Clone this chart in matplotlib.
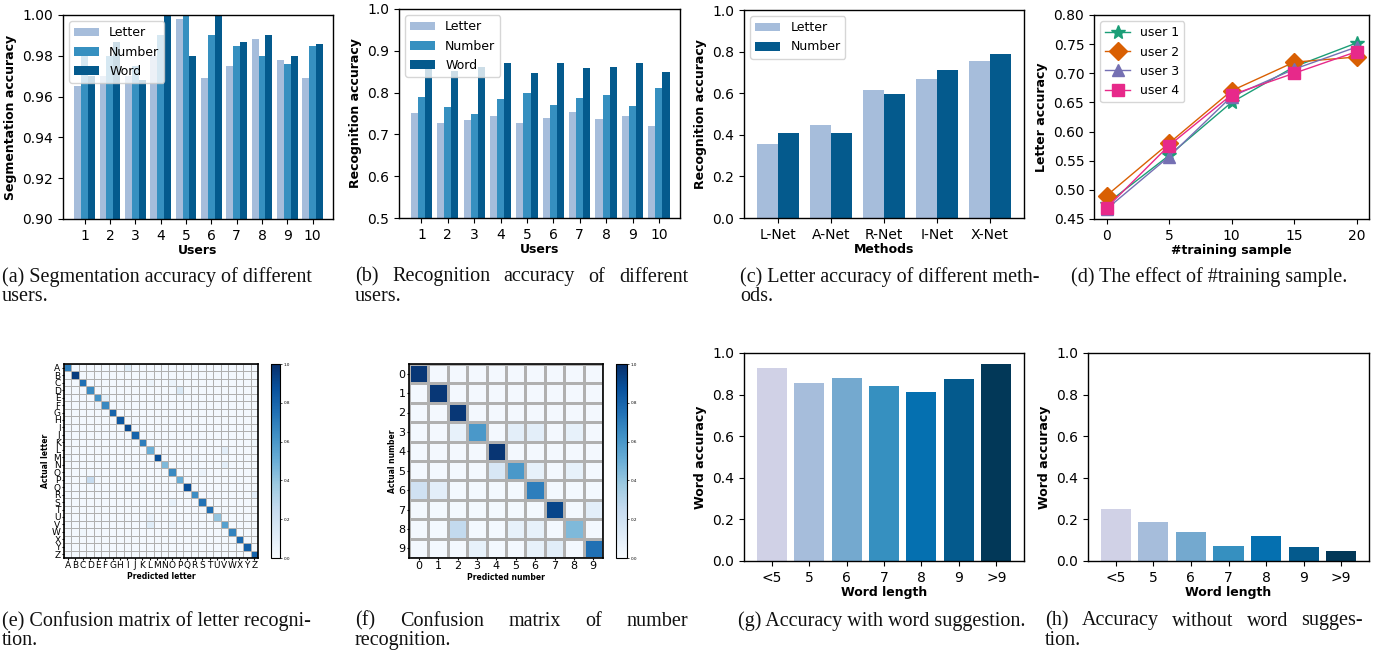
import numpy as np
import matplotlib
matplotlib.use('Agg')
import matplotlib.pyplot as plt

W, H = 1396, 657

# ---- data -------------------------------------------------------------
users = np.arange(1, 11)
seg_letter = [0.965, 0.970, 0.970, 0.980, 0.998, 0.969, 0.975, 0.988, 0.978, 0.969]
seg_number = [0.980, 0.980, 0.975, 0.990, 1.000, 0.990, 0.985, 0.980, 0.976, 0.985]
seg_word = [0.970, 0.987, 0.968, 1.000, 0.980, 1.000, 0.987, 0.990, 0.980, 0.986]

rec_letter = [0.752, 0.728, 0.734, 0.743, 0.727, 0.740, 0.754, 0.738, 0.745, 0.720]
rec_number = [0.790, 0.766, 0.750, 0.785, 0.800, 0.770, 0.786, 0.794, 0.768, 0.810]
rec_word = [0.864, 0.851, 0.861, 0.872, 0.846, 0.870, 0.858, 0.861, 0.870, 0.850]

methods = ['L-Net', 'A-Net', 'R-Net', 'I-Net', 'X-Net']
meth_letter = [0.357, 0.447, 0.616, 0.669, 0.755]
meth_number = [0.409, 0.409, 0.596, 0.711, 0.789]

train_n = [0, 5, 10, 15, 20]
user_names = ['user 1', 'user 2', 'user 3', 'user 4']
user_acc = [
    [0.476, 0.559, 0.650, 0.711, 0.752],
    [0.490, 0.580, 0.670, 0.719, 0.728],
    [0.467, 0.557, 0.660, 0.707, 0.745],
    [0.469, 0.576, 0.663, 0.700, 0.737],
]

letters = list('ABCDEFGHIJKLMNOPQRSTUVWXYZ')
letter_diag = [0.70, 0.95, 0.75, 0.65, 0.62, 0.66, 0.80, 0.85, 0.90, 0.80, 0.70, 0.50, 0.88,
               0.45, 0.66, 0.50, 0.88, 0.64, 0.74, 0.76, 0.40, 0.56, 0.68, 0.78, 0.82, 0.80]
# (actual, predicted, value) for the visible off-diagonal cells
letter_off = [('A', 'I', 0.12), ('C', 'L', 0.06), ('C', 'O', 0.06), ('D', 'P', 0.15),
              ('E', 'F', 0.08), ('F', 'E', 0.06), ('L', 'V', 0.10), ('N', 'V', 0.10),
              ('P', 'D', 0.25), ('R', 'Z', 0.10), ('S', 'O', 0.08), ('U', 'L', 0.07),
              ('V', 'L', 0.12), ('V', 'O', 0.06), ('M', 'A', 0.05), ('O', 'S', 0.06),
              ('M', 'R', 0.05), ('K', 'Z', 0.04), ('Q', 'K', 0.04), ('W', 'C', 0.04)]
letter_base = 0.02

digits = [str(d) for d in range(10)]
number_diag = [0.97, 0.97, 0.97, 0.60, 0.98, 0.60, 0.70, 0.92, 0.45, 0.75]
number_off = [(3, 2, 0.08), (3, 5, 0.10), (3, 6, 0.10), (3, 8, 0.08),
              (5, 4, 0.16), (5, 6, 0.08), (5, 8, 0.08),
              (6, 0, 0.20), (6, 1, 0.10), (7, 9, 0.10),
              (8, 2, 0.26), (8, 5, 0.08), (8, 6, 0.08),
              (9, 3, 0.08), (9, 6, 0.08), (9, 7, 0.11)]
number_base = 0.02

word_len = ['<5', '5', '6', '7', '8', '9', '>9']
with_sugg = [0.930, 0.858, 0.882, 0.843, 0.811, 0.877, 0.946]
without_sugg = [0.250, 0.186, 0.138, 0.070, 0.118, 0.066, 0.048]

pubu = ['#d0d1e6', '#a6bddb', '#74a9cf', '#3690c0', '#0570b0', '#045a8d', '#023858']
dark2 = ['#1b9e77', '#d95f02', '#7570b3', '#e7298a']
markers = ['*', 'D', '^', 's']
msizes = [10, 9, 9, 9]

TICK = 10
LAB = 9


def box(l, t, r, b):
    return [l / W, 1 - b / H, (r - l) / W, (b - t) / H]


def style(ax):
    ax.tick_params(labelsize=TICK)
    for s in ax.spines.values():
        s.set_linewidth(1.0)


fig = plt.figure(figsize=(W / 100, H / 100), dpi=100)

# (a) segmentation accuracy
ax = fig.add_axes(box(63, 15, 333, 219))
w = 0.27
ax.bar(users - w, seg_letter, w, color=pubu[1], label='Letter')
ax.bar(users, seg_number, w, color=pubu[3], label='Number')
ax.bar(users + w, seg_word, w, color=pubu[5], label='Word')
ax.set_ylim(0.90, 1.00)
ax.set_yticks(np.arange(0.90, 1.001, 0.02))
ax.yaxis.set_major_formatter('{x:.2f}')
ax.set_xticks(users)
ax.set_xlim(0.15, 10.8)
ax.set_xlabel('Users', fontweight='bold', fontsize=LAB, labelpad=1)
ax.set_ylabel('Segmentation accuracy', fontweight='bold', fontsize=LAB)
ax.legend(loc='upper left', fontsize=LAB)
style(ax)

# (b) recognition accuracy
ax = fig.add_axes(box(399, 9, 680, 218))
ax.bar(users - w, rec_letter, w, color=pubu[1], label='Letter')
ax.bar(users, rec_number, w, color=pubu[3], label='Number')
ax.bar(users + w, rec_word, w, color=pubu[5], label='Word')
ax.set_ylim(0.5, 1.0)
ax.set_xticks(users)
ax.set_xlim(0.15, 10.8)
ax.set_xlabel('Users', fontweight='bold', fontsize=LAB, labelpad=1)
ax.set_ylabel('Recognition accuracy', fontweight='bold', fontsize=LAB)
ax.legend(loc='upper left', fontsize=LAB)
style(ax)

# (c) methods
ax = fig.add_axes(box(744, 10, 1024, 218))
xm = np.arange(len(methods))
ax.bar(xm - 0.2, meth_letter, 0.4, color=pubu[1], label='Letter')
ax.bar(xm + 0.2, meth_number, 0.4, color=pubu[5], label='Number')
ax.set_ylim(0, 1.0)
ax.set_xticks(xm, methods)
ax.set_xlabel('Methods', fontweight='bold', fontsize=LAB, labelpad=1)
ax.set_ylabel('Recognition accuracy', fontweight='bold', fontsize=LAB)
ax.legend(loc='upper left', fontsize=LAB)
style(ax)

# (d) training samples
ax = fig.add_axes(box(1094, 15, 1369, 219))
for name, acc, c, m, ms in zip(user_names, user_acc, dark2, markers, msizes):
    ax.plot(train_n, acc, color=c, marker=m, ms=ms, lw=1, label=name)
ax.set_ylim(0.45, 0.80)
ax.set_xticks(train_n)
ax.yaxis.set_major_formatter('{x:.2f}')
ax.set_xlabel('#training sample', fontweight='bold', fontsize=LAB, labelpad=1)
ax.set_ylabel('Letter accuracy', fontweight='bold', fontsize=LAB)
ax.legend(loc='upper left', fontsize=LAB)
style(ax)


def conf_panel(rect, crect, labels, diag, off, base, xl, yl, fs, lw):
    n = len(labels)
    mat = np.full((n, n), base)
    mat[np.arange(n), np.arange(n)] = diag
    for r, c, v in off:
        if isinstance(r, str):
            r, c = labels.index(r), labels.index(c)
        mat[r, c] = v
    ax = fig.add_axes(rect)
    mesh = ax.pcolormesh(mat, cmap='Blues', vmin=0, vmax=1,
                         edgecolors='#b0b0b0', linewidth=lw)
    ax.set_xlim(0, n)
    ax.set_ylim(n, 0)
    ax.set_xticks(np.arange(n) + 0.5, labels)
    ax.set_yticks(np.arange(n) + 0.5, labels)
    ax.tick_params(labelsize=fs, length=1.5, pad=1)
    ax.set_xlabel(xl, fontweight='bold', fontsize=5.5, labelpad=1)
    ax.set_ylabel(yl, fontweight='bold', fontsize=5.5, labelpad=1)
    for s in ax.spines.values():
        s.set_linewidth(1.2)
    cax = fig.add_axes(crect)
    cb = fig.colorbar(mesh, cax=cax, ticks=[0, 0.2, 0.4, 0.6, 0.8, 1.0])
    cb.ax.tick_params(labelsize=3, length=1.5, width=0.5, pad=1)
    cb.outline.set_linewidth(0.8)


# (e) letter confusion matrix
conf_panel(box(64, 364, 258, 558), box(271, 364, 280, 558), letters,
           letter_diag, letter_off, letter_base, 'Predicted letter', 'Actual letter', 6.5, 0.65)

# (f) number confusion matrix
conf_panel(box(409, 364, 603, 558), box(616, 364, 627, 558), digits,
           number_diag, number_off, number_base, 'Predicted number', 'Actual number', 8, 0.9)

# (g) with word suggestion
ax = fig.add_axes(box(744, 353, 1024, 561))
xw = np.arange(len(word_len))
ax.bar(xw, with_sugg, 0.8, color=pubu)
ax.set_ylim(0, 1.0)
ax.set_xticks(xw, word_len)
ax.set_xlabel('Word length', fontweight='bold', fontsize=LAB, labelpad=1)
ax.set_ylabel('Word accuracy', fontweight='bold', fontsize=LAB)
style(ax)

# (h) without word suggestion
ax = fig.add_axes(box(1088, 353, 1369, 561))
ax.bar(xw, without_sugg, 0.8, color=pubu)
ax.set_ylim(0, 1.0)
ax.set_xticks(xw, word_len)
ax.set_xlabel('Word length', fontweight='bold', fontsize=LAB, labelpad=1)
ax.set_ylabel('Word accuracy', fontweight='bold', fontsize=LAB)
style(ax)

# ---- captions ---------------------------------------------------------
CAP = dict(family='Liberation Serif', fontsize=14.5, color='#111111')
renderer = fig.canvas.get_renderer()


def line_justified(text, x0, x1, y):
    words = text.split()
    objs = [fig.text(0, 1 - y / H, wd, va='center', ha='left', **CAP) for wd in words]
    widths = [o.get_window_extent(renderer).width for o in objs]
    gap = (x1 - x0 - sum(widths)) / max(len(words) - 1, 1)
    x = x0
    for o, wd in zip(objs, widths):
        o.set_x(x / W)
        x += wd + gap


# first line, second line, left x, right x (None = natural width), y
captions = [
    ('(a) Segmentation accuracy of different', 'users.', 2, None, 277),
    ('(b) Recognition accuracy of different', 'users.', 355, 688, 277),
    ('(c) Letter accuracy of different meth-', 'ods.', 740, None, 277),
    ('(d) The effect of #training sample.', None, 1209, None, 277),
    ('(e) Confusion matrix of letter recogni-', 'tion.', 2, None, 621),
    ('(f) Confusion matrix of number', 'recognition.', 355, 688, 621),
    ('(g) Accuracy with word suggestion.', None, 882, None, 621),
    ('(h) Accuracy without word sugges-', 'tion.', 1045, 1363, 621),
]
for first, second, x0, x1, y in captions:
    if second is None:
        fig.text(x0 / W, 1 - y / H, first, va='center', ha='center', **CAP)
        continue
    if x1 is None:
        fig.text(x0 / W, 1 - y / H, first, va='center', ha='left', **CAP)
    else:
        line_justified(first, x0, x1, y)
    fig.text(x0 / W, 1 - (y + 19.5) / H, second, va='center', ha='left', **CAP)

fig.savefig('out.png', dpi=100)
